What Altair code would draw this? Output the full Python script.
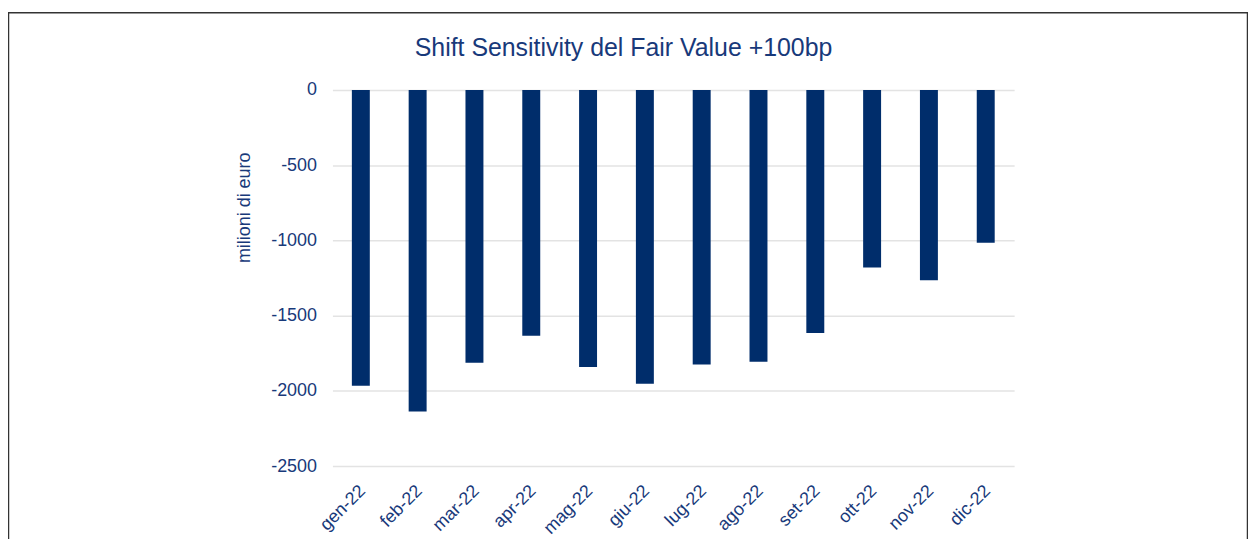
import altair as alt
import pandas as pd

months = ["gen-22", "feb-22", "mar-22", "apr-22", "mag-22", "giu-22",
          "lug-22", "ago-22", "set-22", "ott-22", "nov-22", "dic-22"]
values = [-1966, -2138, -1814, -1634, -1842, -1953,
          -1825, -1807, -1616, -1180, -1265, -1016]
y_ticks = [0, -500, -1000, -1500, -2000, -2500]
title_text = "Shift Sensitivity del Fair Value +100bp"

df = pd.DataFrame({"mese": months, "valore": values})

TEXT = "#18397A"
BAR = "#002D6B"
FONT = "Liberation Sans"

bars = alt.Chart(df).mark_bar(color=BAR).encode(
    x=alt.X("mese:N", sort=months,
            scale=alt.Scale(paddingInner=0.684, paddingOuter=0.342),
            axis=alt.Axis(title=None, labelAngle=-45, labelAlign="right",
                          labelBaseline="middle", labelPadding=22, labelOffset=2,
                          ticks=False, domain=False, grid=False,
                          labelFont=FONT, labelFontSize=18, labelColor=TEXT)),
    y=alt.Y("valore:Q", scale=alt.Scale(domain=[-2500, 0], nice=False),
            axis=alt.Axis(title="milioni di euro", values=y_ticks,
                          labelExpr="'' + datum.value",
                          ticks=False, domain=False, grid=True,
                          gridColor="#E3E3E3", gridWidth=1.5,
                          labelPadding=16, labelFont=FONT, labelFontSize=18,
                          labelColor=TEXT,
                          titleFont=FONT, titleFontSize=18, titleColor=TEXT,
                          titleFontWeight="normal", titleAngle=-90,
                          titleX=-88, titleY=118, titleAlign="center",
                          titleBaseline="middle")),
)

border = alt.Chart(alt.Data(values=[{}])).mark_rect(
    filled=False, stroke="#333333", strokeWidth=1.5
).encode(
    x=alt.value(-325.5), x2=alt.value(919.5),
    y=alt.value(-77.5), y2=alt.value(540),
)

title = alt.Chart(alt.Data(values=[{"t": title_text}])).mark_text(
    font=FONT, fontSize=25, color=TEXT, align="center", baseline="middle"
).encode(
    text="t:N", x=alt.value(292.5), y=alt.value(-42),
)

chart = alt.layer(border, bars, title).properties(
    width=685, height=378,
    autosize=alt.AutoSizeParams(type="none"),
    padding={"left": 326, "top": 81, "right": 235, "bottom": 72},
    background="white",
    view=alt.ViewBackground(stroke=None, strokeWidth=0),
).configure_view(stroke=None, strokeWidth=0)

chart.save("out.html", embed_options={"renderer": "svg", "actions": False})
